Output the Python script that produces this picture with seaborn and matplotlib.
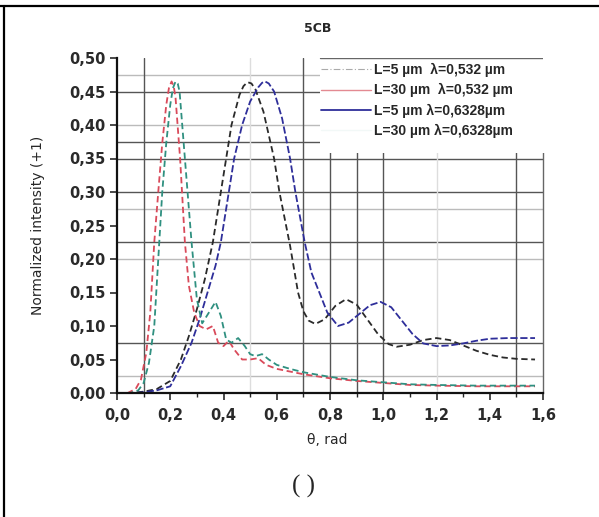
import pandas as pd
import matplotlib
matplotlib.use("Agg")
import matplotlib.pyplot as plt
from matplotlib.lines import Line2D
from matplotlib.patches import Rectangle
import seaborn as sns

# Данные
theta_l5_532 = [0.00, 0.05, 0.10, 0.15, 0.20, 0.24, 0.27, 0.30, 0.33, 0.36, 0.39, 0.41,
                0.43, 0.46, 0.475, 0.49, 0.505, 0.52, 0.55, 0.57, 0.59, 0.61, 0.63, 0.65,
                0.68, 0.70, 0.72, 0.745, 0.78, 0.82, 0.86, 0.90, 0.94, 0.98, 1.02, 1.05,
                1.10, 1.15, 1.20, 1.25, 1.30, 1.35, 1.40, 1.45, 1.50, 1.57]
int_l5_532 = [0.000, 0.000, 0.002, 0.006, 0.018, 0.050, 0.085, 0.125, 0.170, 0.225, 0.300, 0.350,
              0.400, 0.445, 0.458, 0.464, 0.462, 0.453, 0.420, 0.385, 0.350, 0.300, 0.260, 0.220,
              0.150, 0.122, 0.108, 0.103, 0.110, 0.130, 0.140, 0.132, 0.110, 0.088, 0.073, 0.069,
              0.072, 0.079, 0.082, 0.079, 0.071, 0.063, 0.057, 0.053, 0.051, 0.050]

theta_l30_532 = [0.00, 0.04, 0.07, 0.09, 0.11, 0.125, 0.14, 0.155, 0.17, 0.185, 0.195, 0.205,
                 0.213, 0.22, 0.237, 0.255, 0.27, 0.29, 0.31, 0.335, 0.36, 0.38, 0.40, 0.42,
                 0.44, 0.47, 0.50, 0.53, 0.56, 0.60, 0.65, 0.70, 0.80, 0.90, 1.00, 1.10,
                 1.20, 1.35, 1.57]
int_l30_532 = [0.000, 0.000, 0.006, 0.020, 0.060, 0.120, 0.225, 0.300, 0.373, 0.430, 0.455, 0.465,
               0.458, 0.440, 0.350, 0.225, 0.160, 0.120, 0.100, 0.095, 0.100, 0.075, 0.070, 0.078,
               0.065, 0.050, 0.050, 0.052, 0.042, 0.036, 0.032, 0.028, 0.022, 0.018, 0.015, 0.012,
               0.011, 0.010, 0.010]

theta_l5_6328 = [0.00, 0.05, 0.10, 0.15, 0.20, 0.24, 0.28, 0.31, 0.34, 0.37, 0.39, 0.42,
                 0.44, 0.47, 0.50, 0.53, 0.545, 0.556, 0.57, 0.59, 0.62, 0.65, 0.67, 0.705,
                 0.73, 0.76, 0.79, 0.83, 0.87, 0.91, 0.95, 0.99, 1.03, 1.07, 1.11, 1.15,
                 1.20, 1.25, 1.30, 1.35, 1.40, 1.47, 1.57]
int_l5_6328 = [0.000, 0.000, 0.001, 0.004, 0.010, 0.040, 0.075, 0.110, 0.150, 0.190, 0.225, 0.300,
               0.350, 0.400, 0.435, 0.456, 0.463, 0.465, 0.462, 0.450, 0.410, 0.350, 0.300, 0.225,
               0.180, 0.150, 0.120, 0.100, 0.105, 0.118, 0.131, 0.136, 0.128, 0.108, 0.088, 0.074,
               0.070, 0.071, 0.074, 0.078, 0.081, 0.082, 0.082]

theta_l30_6328 = [0.00, 0.05, 0.08, 0.10, 0.12, 0.14, 0.155, 0.17, 0.185, 0.20, 0.21, 0.22,
                  0.228, 0.235, 0.255, 0.28, 0.30, 0.32, 0.345, 0.37, 0.39, 0.41, 0.43, 0.455,
                  0.48, 0.50, 0.52, 0.545, 0.57, 0.60, 0.65, 0.70, 0.80, 0.90, 1.00, 1.10,
                  1.20, 1.35, 1.57]
int_l30_6328 = [0.000, 0.000, 0.004, 0.015, 0.045, 0.100, 0.200, 0.300, 0.373, 0.430, 0.455, 0.465,
                0.462, 0.450, 0.350, 0.225, 0.140, 0.104, 0.120, 0.136, 0.115, 0.080, 0.075, 0.082,
                0.070, 0.058, 0.055, 0.058, 0.050, 0.042, 0.036, 0.031, 0.024, 0.019, 0.016, 0.013,
                0.012, 0.011, 0.011]

legend_labels = ["L=5 µm  λ=0,532 µm", "L=30 µm  λ=0,532 µm",
                 "L=5 µm λ=0,6328µm", "L=30 µm λ=0,6328µm"]

y_ticks = [0.00, 0.05, 0.10, 0.15, 0.20, 0.25, 0.30, 0.35, 0.40, 0.45, 0.50]
x_ticks = [0.0, 0.2, 0.4, 0.6, 0.8, 1.0, 1.2, 1.4, 1.6]

# Сетка "как в скане": тёмные и светлые линии
H_DARK = [0.45, 0.375, 0.35, 0.30, 0.225, 0.075]
H_LIGHT = [0.475, 0.40, 0.275, 0.20, 0.025]
V_DARK = [0.1, 0.7, 0.8, 0.9, 1.0, 1.5]
V_LIGHT = [0.5, 1.2]

COLOR_BLACK = "#2a2a2a"
COLOR_RED = "#d94a5a"
COLOR_BLUE = "#2e2e9a"
COLOR_TEAL = "#2f9080"

series = [
    (theta_l5_532, int_l5_532, COLOR_BLACK, (0, (3.5, 2))),
    (theta_l30_532, int_l30_532, COLOR_RED, (0, (3.5, 2))),
    (theta_l5_6328, int_l5_6328, COLOR_BLUE, (0, (4, 1.5))),
    (theta_l30_6328, int_l30_6328, COLOR_TEAL, (0, (3.5, 2))),
]

sns.set_theme(style="white")
plt.rcParams["font.family"] = ["DejaVu Sans"]

fig = plt.figure(figsize=(5.99, 5.17), dpi=100)
ax = fig.add_axes([117 / 599, 1 - 393 / 517, 426 / 599, 335 / 517])

for y in H_DARK:
    ax.axhline(y, color="#555555", lw=1.0, zorder=1)
for y in H_LIGHT:
    ax.axhline(y, color="#bbbbbb", lw=1.0, zorder=1)
for x in V_DARK:
    ax.axvline(x, color="#555555", lw=1.0, zorder=1)
for x in V_LIGHT:
    ax.axvline(x, color="#dddddd", lw=1.0, zorder=1)

for (th, val, col, ls), lab in zip(series, legend_labels):
    df = pd.DataFrame({"theta": th, "intensity": val})
    sns.lineplot(data=df, x="theta", y="intensity", ax=ax, color=col,
                 lw=1.3, linestyle=ls, zorder=2, sort=False)

ax.set_xlim(0, 1.6)
ax.set_ylim(0, 0.5)
ax.set_xticks(x_ticks)
ax.set_xticks([0.1, 0.3, 0.5, 0.7, 0.9, 1.1, 1.3, 1.5], minor=True)
ax.set_yticks(y_ticks)
ax.set_xticklabels([f"{v:.1f}".replace(".", ",") for v in x_ticks])
ax.set_yticklabels([f"{v:.2f}".replace(".", ",") for v in y_ticks])
ax.tick_params(axis="both", which="major", direction="out", length=5, width=1.2,
               labelsize=10.5, colors="#2a2a2a", bottom=True, left=True)
ax.tick_params(axis="x", which="minor", direction="out", length=3, width=1, bottom=True)
ax.tick_params(axis="y", pad=3)
ax.tick_params(axis="x", pad=6)
for lbl in ax.get_xticklabels() + ax.get_yticklabels():
    lbl.set_fontweight("bold")

for side in ["left", "bottom"]:
    ax.spines[side].set_color("#111111")
    ax.spines[side].set_linewidth(1.6)
ax.spines["top"].set_visible(False)
ax.spines["right"].set_color("#666666")
ax.spines["right"].set_linewidth(1.0)

# белая подложка под легендой
ax.add_patch(Rectangle((0.476, 0.715), 0.53, 0.29, transform=ax.transAxes,
                       facecolor="white", edgecolor="none", zorder=3, clip_on=False))
ax.axhline(0.5, xmin=0.476, xmax=1.0, color="#666666", lw=1.0, zorder=4)

handles = [
    Line2D([], [], color="#aaaaaa", lw=0.8, linestyle=(0, (6, 2, 1, 2))),
    Line2D([], [], color="#e38a92", lw=1.0),
    Line2D([], [], color=COLOR_BLUE, lw=1.3),
    Line2D([], [], color="#f2f8f7", lw=1.0),
]
leg = ax.legend(handles, legend_labels, loc="upper left", bbox_to_anchor=(0.478, 0.985),
                frameon=False, borderaxespad=0, borderpad=0, handlelength=3.6,
                handletextpad=0.25, labelspacing=0.45,
                prop={"family": "Liberation Sans", "weight": "bold", "size": 10})
leg.set_zorder(5)

ax.set_xlabel("θ, rad", fontsize=10)
ax.set_ylabel("Normalized intensity (+1)", fontsize=10)
ax.xaxis.set_label_coords(0.493, -0.12)
ax.yaxis.set_label_coords(-0.17, 0.5)

fig.text(318 / 599, 1 - 28 / 517, "5CB", fontsize=9, fontweight="bold",
         ha="center", va="center")
fig.text(303 / 599, 1 - 486 / 517, "( )", fontsize=18, family="Liberation Serif",
         ha="center", va="center")

# рамка сверху и слева
fig.add_artist(Line2D([0, 1], [1 - 6 / 517, 1 - 6 / 517], transform=fig.transFigure,
                      color="black", lw=1.6))
fig.add_artist(Line2D([4 / 599, 4 / 599], [0, 1 - 6 / 517], transform=fig.transFigure,
                      color="black", lw=1.6))

fig.savefig("out.png", dpi=100)
